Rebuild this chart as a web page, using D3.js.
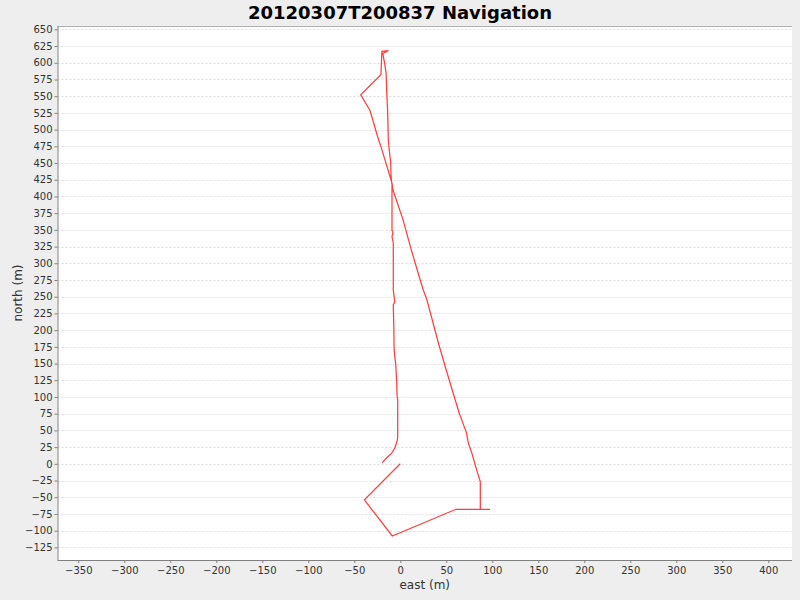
<!DOCTYPE html>
<html>
<head>
<meta charset="utf-8">
<script src="https://cdn.jsdelivr.net/npm/d3@7"></script>
<style>
  html, body { margin: 0; padding: 0; background: #eeeeee; }
  svg { display: block; }
</style>
</head>
<body>
<svg id="chart" width="800" height="600"></svg>
<script>
// ---- data (metres) ----
const titleText = "20120307T200837 Navigation";
const xLabel = "east (m)";
const yLabel = "north (m)";

const eastTicks = [-350,-300,-250,-200,-150,-100,-50,0,50,100,150,200,250,300,350,400];
const northTicks = [-125,-100,-75,-50,-25,0,25,50,75,100,125,150,175,200,225,250,275,300,325,350,375,400,425,450,475,500,525,550,575,600,625,650];

const east = [
  0, -39, -8.7, 60.5, 97.5, 87, 87,
  83, 78, 74, 72, 67, 64, 50, 41, 29, 25, 21, 12, 3, -8, -9, -20, -24.5, -33, -43,
  -21, -20, -13, -19,
  -17, -15.5, -15, -14.8, -13.7, -13, -12, -10.4, -10, -9, -9, -8, -9, -7.6, -7.6, -6, -7.6,
  -7, -6.8, -6, -5, -4, -3.5, -2.8, -2.8, -3.3, -5.8, -9.3, -14.8, -19.6
];
const north = [
  0, -54, -108, -68, -68, -68, -27,
  -9, 15, 31, 46, 65, 76, 140, 183, 245, 260, 278, 320, 365, 410, 420, 470, 489, 529, 552,
  582, 617, 618, 614,
  599, 585, 570, 559, 525, 484, 470, 450, 430, 417, 350, 345, 340, 330, 260, 242, 238,
  200, 175, 160, 150, 125, 103, 95, 40, 35, 24, 16, 9, 1.5
];

// ---- layout ----
const W = 800, H = 600;
const plot = { left: 57.5, top: 26, right: 792, bottom: 560 };

const svg = d3.select("#chart");
svg.append("rect").attr("width", W).attr("height", H).attr("fill", "#eeeeee");

const x = d3.scaleLinear().domain([-372.6, 425.8]).range([plot.left, plot.right]);
const y = d3.scaleLinear().domain([-143.9, 655]).range([plot.bottom, plot.top]);

// plot background
svg.append("rect")
  .attr("x", plot.left).attr("y", plot.top)
  .attr("width", plot.right - plot.left).attr("height", plot.bottom - plot.top)
  .attr("fill", "#ffffff");

// horizontal gridlines
svg.append("g").selectAll("line").data(northTicks).join("line")
  .attr("x1", plot.left).attr("x2", plot.right)
  .attr("y1", d => Math.round(y(d)) + 0.5).attr("y2", d => Math.round(y(d)) + 0.5)
  .attr("stroke", "#dddddd").attr("stroke-width", 1).attr("stroke-dasharray", "2,2");

// top border
svg.append("line")
  .attr("x1", plot.left).attr("x2", plot.right)
  .attr("y1", plot.top + 0.5).attr("y2", plot.top + 0.5)
  .attr("stroke", "#b0b0b0").attr("stroke-width", 1);

// data line
const line = d3.line().x((d, i) => x(east[i])).y((d, i) => y(north[i]));
svg.append("path")
  .datum(east)
  .attr("d", line)
  .attr("fill", "none")
  .attr("stroke", "#ff4040")
  .attr("stroke-width", 1.25)
  .attr("stroke-linejoin", "miter");

// axes
const fontFam = "'DejaVu Sans', sans-serif";
const xAxis = d3.axisBottom(x).tickValues(eastTicks).tickSize(3).tickPadding(4).tickFormat(d3.format("d"));
const yAxis = d3.axisLeft(y).tickValues(northTicks).tickSize(3).tickPadding(2).tickFormat(d3.format("d"));

const gx = svg.append("g").attr("transform", `translate(0,${plot.bottom})`).call(xAxis);
const gy = svg.append("g").attr("transform", `translate(${plot.left},0)`).call(yAxis);

[gx, gy].forEach(g => {
  g.select(".domain").attr("stroke", "#808080");
  g.selectAll(".tick line").attr("stroke", "#808080");
  g.selectAll(".tick text").attr("fill", "#333333")
    .style("font-family", fontFam).style("font-size", "10px");
});
gx.select(".domain").attr("d", `M${plot.left},0.5H${plot.right}`);
gy.select(".domain").attr("d", `M0.5,${plot.top}V${plot.bottom}`);

// title
svg.append("text")
  .attr("x", W / 2).attr("y", 19)
  .attr("text-anchor", "middle")
  .style("font-family", fontFam).style("font-size", "18px").style("font-weight", "bold")
  .attr("fill", "#000000")
  .text(titleText);

// axis labels
svg.append("text")
  .attr("x", (plot.left + plot.right) / 2).attr("y", 589)
  .attr("text-anchor", "middle")
  .style("font-family", fontFam).style("font-size", "12px")
  .attr("fill", "#333333")
  .text(xLabel);

svg.append("text")
  .attr("transform", `translate(22,${(plot.top + plot.bottom) / 2}) rotate(-90)`)
  .attr("text-anchor", "middle")
  .style("font-family", fontFam).style("font-size", "12px")
  .attr("fill", "#333333")
  .text(yLabel);
</script>
</body>
</html>
